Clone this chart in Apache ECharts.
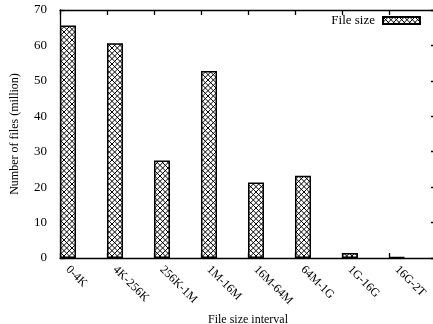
<!DOCTYPE html>
<html>
<head>
<meta charset="utf-8">
<script src="https://cdn.jsdelivr.net/npm/echarts@6/dist/echarts.min.js"></script>
<style>
html,body{margin:0;padding:0;background:#fff;}
#c{width:433px;height:324px;}
</style>
</head>
<body>
<div id="c"></div>
<script>
var categories = ['0-4K','4K-256K','256K-1M','1M-16M','16M-64M','64M-1G','1G-16G','16G-2T'];
var fileCounts = [65.6, 60.6, 27.5, 52.8, 21.3, 23.2, 1.4, 0.3];
var seriesName = 'File size';
var yTicks = [0,10,20,30,40,50,60,70];

function makePattern(){
  var s = 16, p = s/3;
  var cv = document.createElement('canvas');
  cv.width = s; cv.height = s;
  var ctx = cv.getContext('2d');
  ctx.fillStyle = '#fff'; ctx.fillRect(0,0,s,s);
  ctx.strokeStyle = '#000'; ctx.lineWidth = 1;
  for (var k = -6; k <= 6; k++) {
    var c = k*p;
    ctx.beginPath(); ctx.moveTo(c - s, -s); ctx.lineTo(c + 2*s, 2*s); ctx.stroke();
    ctx.beginPath(); ctx.moveTo(c + 2*s, -s); ctx.lineTo(c - s, 2*s); ctx.stroke();
  }
  return cv;
}
var pat = {image: makePattern(), repeat: 'repeat'};

var font = 'Liberation Serif';
var chart = echarts.init(document.getElementById('c'), null, {renderer:'canvas'});
var lineStyle = {color:'#000', width:1.3};
var tick = {show:true, inside:true, length:5, lineStyle:lineStyle};
chart.setOption({
  animation:false,
  textStyle:{fontFamily:font},
  grid:{left:60, top:10, width:376, height:248, containLabel:false, outerBoundsMode:'none'},
  legend:{
    show:true, right:12, top:14, padding:0, align:'right',
    itemWidth:37, itemHeight:7, itemGap:0,
    textStyle:{fontFamily:font, fontSize:13, color:'#000', padding:[0,3,0,0]},
    data:[{name:seriesName, icon:'rect'}]
  },
  xAxis:[
    {type:'value', position:'bottom', min:0, max:8, interval:1,
     axisLine:{show:true, onZero:false, lineStyle:lineStyle},
     axisTick:tick,
     splitLine:{show:false},
     axisLabel:{show:true, rotate:-45, margin:2, padding:[0,0,0,11], fontFamily:font, fontSize:12, color:'#000',
       formatter:function(v){ return categories[v] || ''; }},
     name:'File size interval', nameLocation:'middle', nameGap:56,
     nameTextStyle:{fontFamily:font, fontSize:12, color:'#000'}},
    {type:'value', position:'top', min:0, max:8, interval:1,
     axisLine:{show:true, onZero:false, lineStyle:lineStyle},
     axisTick:tick,
     axisLabel:{show:false}, splitLine:{show:false}},
    {type:'value', position:'bottom', min:-0.17, max:7.83, show:false}
  ],
  yAxis:[
    {type:'value', position:'left', min:0, max:70, interval:10,
     axisLine:{show:true, onZero:false, lineStyle:lineStyle},
     axisTick:tick,
     splitLine:{show:false},
     axisLabel:{show:true, margin:13, fontFamily:font, fontSize:13, color:'#000'},
     name:'Number of files (million)', nameLocation:'middle', nameGap:39,
     nameTextStyle:{fontFamily:font, fontSize:12, color:'#000'}},
    {type:'value', position:'right', min:0, max:70, interval:10,
     axisLine:{show:true, onZero:false, lineStyle:lineStyle},
     axisTick:tick,
     axisLabel:{show:false}, splitLine:{show:false}}
  ],
  series:[{
    name:seriesName, type:'bar', xAxisIndex:2, yAxisIndex:0,
    barWidth:16,
    itemStyle:{color:pat, borderColor:'#000', borderWidth:1.5},
    data:fileCounts.map(function(v,i){ return [i, v]; })
  }]
});
</script>
</body>
</html>
